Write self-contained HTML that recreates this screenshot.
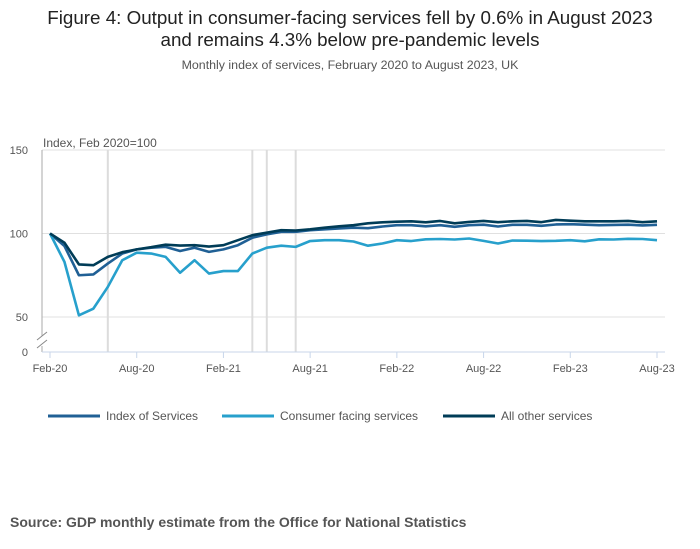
<!DOCTYPE html>
<html><head><meta charset="utf-8"><style>
body{margin:0;width:700px;height:549px;background:#fff;font-family:"Liberation Sans",sans-serif;overflow:hidden}
svg{position:absolute;left:0;top:0}
</style></head><body>
<svg width="700" height="549" id="c">
<text x="350" y="24" text-anchor="middle" font-size="18.8" fill="#222">Figure 4: Output in consumer-facing services fell by 0.6% in August 2023</text>
<text x="350" y="46" text-anchor="middle" font-size="18.8" fill="#222">and remains 4.3% below pre-pandemic levels</text>
<text x="350" y="69" text-anchor="middle" font-size="12.4" fill="#555">Monthly index of services, February 2020 to August 2023, UK</text>
<text x="43" y="147" font-size="12" fill="#555">Index, Feb 2020=100</text>
<g id="grid"></g><g id="series"></g>
<text x="10" y="527" font-size="14" font-weight="bold" fill="#555">Source: GDP monthly estimate from the Office for National Statistics</text>
</svg>
<script>
const xLabels=["Feb-20","Aug-20","Feb-21","Aug-21","Feb-22","Aug-22","Feb-23","Aug-23"];
const yTicks=[50,100,150];
const eventMonths=[4,14,15,17];
const seriesNames=["Index of Services","Consumer facing services","All other services"];
const ios=[100,92.5,75,75.5,82,88,90.5,91.5,92,89.5,91.5,89,90.5,93,97.5,99.5,101,101,102,102.5,103,103.5,103.2,104.2,105,105,104.3,105,104,105,105.3,104.2,105.2,105.2,104.6,105.4,105.6,105.3,105,105.1,105.3,104.8,105.2];
const cfs=[100,83,51,55,68,84,88.5,88,86,76.5,84,76,77.5,77.5,88,91.5,92.7,92,95.5,96,96,95.2,92.7,94,96,95.5,96.5,96.7,96.4,97,95.6,94,95.8,95.7,95.5,95.6,96,95.3,96.5,96.4,96.8,96.7,96];
const oth=[100,94.5,81.5,81,86,88.8,90.5,91.8,93.3,92.8,93,92.2,93,96,99,100.5,102,101.8,102.5,103.5,104.3,105,106.1,106.7,107.1,107.3,106.7,107.5,106.1,106.9,107.5,106.8,107.3,107.5,106.8,108.1,107.7,107.3,107.3,107.3,107.5,106.8,107.3];
const colors=["#206095","#27a0cc","#003c57"];
const X=m=>50+m*(607/42), Y=v=>317-(v-50)*(83.5/50);
const NS="http://www.w3.org/2000/svg";
const g=document.getElementById('grid'), s=document.getElementById('series');
function mk(p,tag,a){const e=document.createElementNS(NS,tag);for(const k in a)e.setAttribute(k,a[k]);p.appendChild(e);return e;}
yTicks.forEach(v=>{
 const l=mk(g,'line',{x1:42,x2:665,y1:Y(v),y2:Y(v),stroke:'#e0e0e0'});
 
 
 const t=mk(g,'text',{x:28,y:Y(v)+4,'text-anchor':'end','font-size':11,fill:'#555'});t.textContent=v;
 
 
});
const z=mk(g,'text',{x:28,y:356,'text-anchor':'end','font-size':11,fill:'#555'});z.textContent='0';


eventMonths.forEach(m=>{
 const l=mk(g,'line',{x1:X(m),x2:X(m),y1:150,y2:352,stroke:'#dcdcdc','stroke-width':2});
 
 
});
const ya=mk(g,'path',{d:'M42 150V336M42 346V352',stroke:'#aaa',fill:'none'});


const br=mk(g,'path',{d:'M37 340L47 332M37 348L47 340',stroke:'#888',fill:'none'});


const xa=mk(g,'line',{x1:42,x2:665,y1:352,y2:352,stroke:'#c8d6ea'});


xLabels.forEach((t,i)=>{
 const x=X(i*6);
 mk(g,'line',{x1:x,x2:x,y1:352,y2:358,stroke:'#c8d6ea'});
 const e=mk(g,'text',{x:x,y:372,'text-anchor':'middle','font-size':11,fill:'#555'});e.textContent=t;
 
 
});
[ios,cfs,oth].forEach((d,i)=>{
 const p=mk(s,'polyline',{points:d.map((v,m)=>X(m)+','+Y(v)).join(' '),fill:'none',stroke:colors[i],'stroke-width':2.6,'stroke-linejoin':'round'});
 
 
});
[48,222,443].forEach((x,i)=>{
 const l=mk(s,'line',{x1:x,x2:x+52,y1:416,y2:416,stroke:colors[i],'stroke-width':3});
 
 
 const t=mk(s,'text',{x:x+58,y:420,'font-size':12,fill:'#555'});t.textContent=seriesNames[i];
 
 
});
</script>
</body></html>
